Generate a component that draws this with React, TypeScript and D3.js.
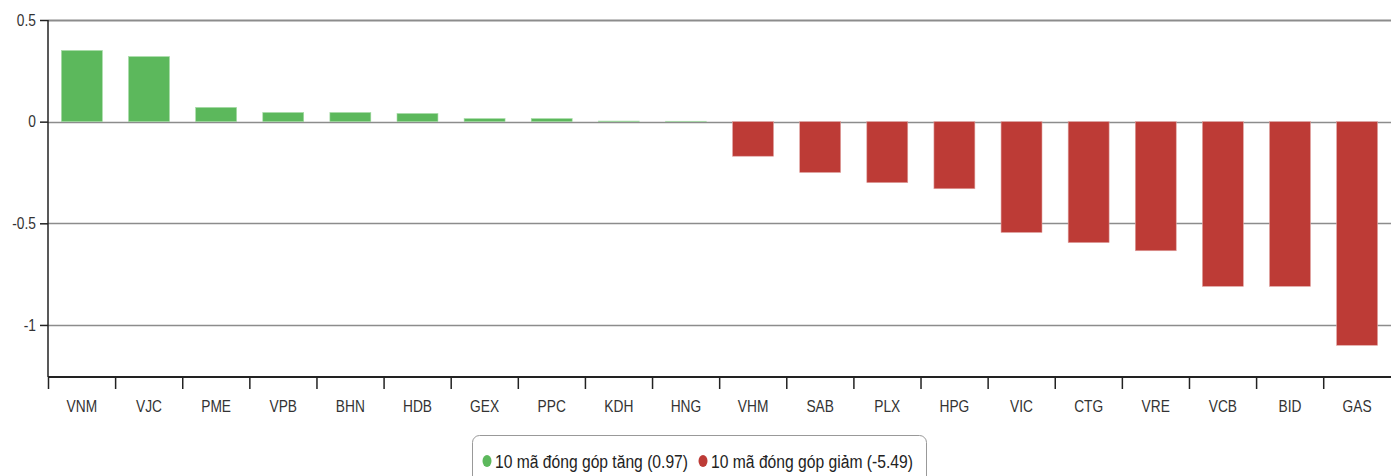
import React, { useEffect, useRef } from 'react';
import * as d3 from 'd3';

const codes = ['VNM', 'VJC', 'PME', 'VPB', 'BHN', 'HDB', 'GEX', 'PPC', 'KDH', 'HNG',
  'VHM', 'SAB', 'PLX', 'HPG', 'VIC', 'CTG', 'VRE', 'VCB', 'BID', 'GAS'];
const contrib = [0.35, 0.32, 0.07, 0.045, 0.045, 0.04, 0.015, 0.015, 0.003, 0.002,
  -0.17, -0.25, -0.3, -0.33, -0.545, -0.595, -0.635, -0.81, -0.81, -1.1];
const yTicks = [0.5, 0, -0.5, -1];
const legendItems = ['10 mã đóng góp tăng (0.97)', '10 mã đóng góp giảm (-5.49)'];

const W = 1391;
const H = 476;
const FONT = '"Liberation Sans", Arial, sans-serif';
const SQUEEZE = 'scale(0.86,1)';

const App = () => {
  const ref = useRef<SVGSVGElement>(null);

  useEffect(() => {
    const svg = d3.select(ref.current);
    svg.selectAll('*').remove();

    const margin = { top: 20, right: 0, bottom: 99, left: 48 };
    const x = d3.scaleBand()
      .domain(codes)
      .range([margin.left, W - margin.right])
      .paddingInner(0.39)
      .paddingOuter(0.2);
    const y = d3.scaleLinear()
      .domain([-1.256, 0.5])
      .range([H - margin.bottom, margin.top]);

    // gridlines
    svg.append('g')
      .selectAll('line')
      .data(yTicks)
      .enter()
      .append('line')
      .attr('x1', margin.left)
      .attr('x2', W)
      .attr('y1', d => Math.round(y(d)) + 0.5)
      .attr('y2', d => Math.round(y(d)) + 0.5)
      .attr('stroke', '#8c8c8c')
      .attr('stroke-width', d => (d === 0.5 ? 2 : 1.5));

    // bars
    svg.append('g')
      .selectAll('rect')
      .data(codes)
      .enter()
      .append('rect')
      .attr('x', d => x(d)!)
      .attr('width', x.bandwidth())
      .attr('y', (d, i) => y(Math.max(0, contrib[i])))
      .attr('height', (d, i) => Math.abs(y(contrib[i]) - y(0)))
      .attr('fill', (d, i) => (contrib[i] >= 0 ? '#5cb85c' : '#bd3b36'))
      .attr('stroke', (d, i) => (contrib[i] >= 0 ? '#a6dba6' : '#e0a3a1'))
      .attr('stroke-width', 0.6);

    // y axis
    const yAxis = svg.append('g')
      .attr('transform', `translate(${margin.left},0)`)
      .call(d3.axisLeft(y).tickValues(yTicks).tickFormat(d => String(d)).tickSize(8).tickPadding(6));
    yAxis.select('.domain').attr('stroke', '#222').attr('stroke-width', 1.5)
      .attr('d', `M0,${margin.top}V${H - margin.bottom}`);
    yAxis.selectAll('.tick line').attr('stroke', '#222').attr('stroke-width', 1.5);
    yAxis.selectAll('text')
      .attr('transform', SQUEEZE)
      .style('font-family', FONT)
      .style('font-size', '16px')
      .style('fill', '#333');

    // x axis
    const xAxis = svg.append('g')
      .attr('transform', `translate(0,${H - margin.bottom})`)
      .call(d3.axisBottom(x).tickSize(0).tickPadding(24));
    xAxis.select('.domain').attr('stroke', '#222').attr('stroke-width', 2)
      .attr('d', `M${margin.left},0H${W}`);
    xAxis.selectAll('text')
      .attr('transform', SQUEEZE)
      .style('font-family', FONT)
      .style('font-size', '16px')
      .style('fill', '#333');

    // separators between categories
    const step = x.step();
    svg.append('g')
      .selectAll('line')
      .data(d3.range(codes.length))
      .enter()
      .append('line')
      .attr('x1', i => x(codes[i])! - x.paddingOuter() * step + 0.5)
      .attr('x2', i => x(codes[i])! - x.paddingOuter() * step + 0.5)
      .attr('y1', H - margin.bottom)
      .attr('y2', H - margin.bottom + 12)
      .attr('stroke', '#222')
      .attr('stroke-width', 1.5);

    // legend
    const lg = svg.append('g').attr('transform', 'translate(472,435)');
    lg.append('rect')
      .attr('x', 0.5)
      .attr('y', 0.5)
      .attr('width', 454)
      .attr('height', 48)
      .attr('rx', 7)
      .attr('fill', '#fff')
      .attr('stroke', '#999');
    const colors = ['#5cb85c', '#bd3b36'];
    const xs = [15, 231];
    const widths = [193, 202];
    legendItems.forEach((t, i) => {
      lg.append('ellipse')
        .attr('cx', xs[i])
        .attr('cy', 26)
        .attr('rx', 4.5)
        .attr('ry', 6)
        .attr('fill', colors[i]);
      lg.append('text')
        .attr('x', xs[i] + 8)
        .attr('y', 33)
        .attr('textLength', widths[i])
        .attr('lengthAdjust', 'spacingAndGlyphs')
        .style('font-family', FONT)
        .style('font-size', '18px')
        .style('fill', '#222')
        .text(t);
    });
  }, []);

  return (
    <svg ref={ref} width={W} height={H}
      style={{ position: 'absolute', left: 0, top: 0, background: '#fff' }} />
  );
};

export default App;
